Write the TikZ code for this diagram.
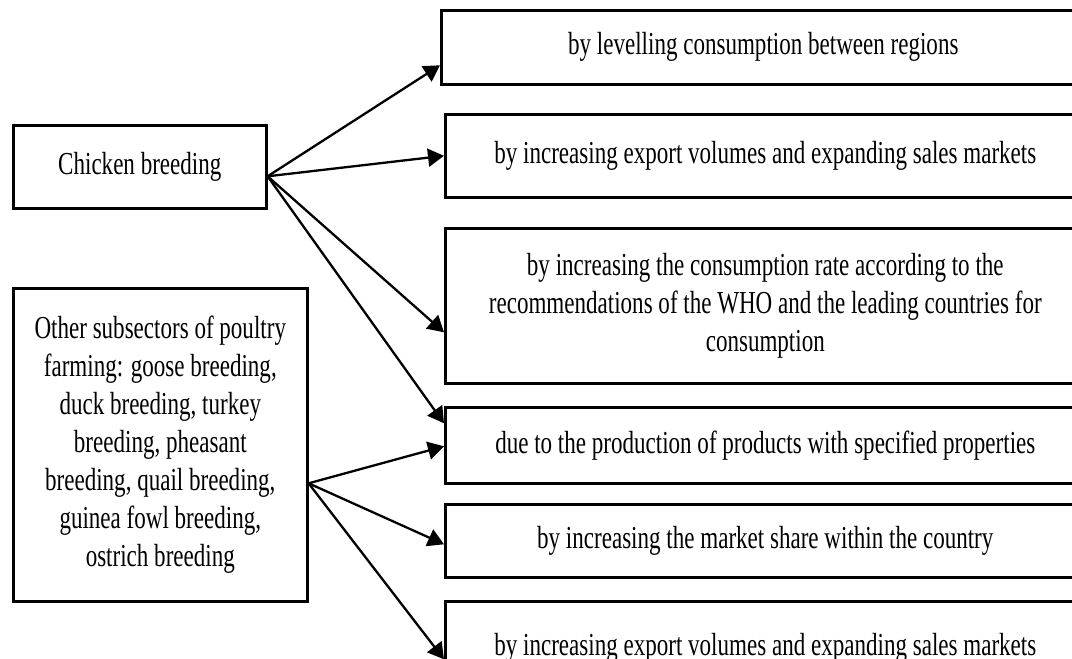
\documentclass[tikz,border=0pt]{standalone}
\usepackage{fontspec}
\setmainfont[FakeStretch=0.72]{Liberation Serif}
\usetikzlibrary{arrows.meta,calc}
\begin{document}
\begin{tikzpicture}[x=1pt,y=-1pt,
  box/.style={draw, line width=2.6pt, rectangle, inner sep=0pt, anchor=north west,
              font=\fontsize{32}{38}\selectfont, align=center},
  arr/.style={line width=2.3pt, -{Triangle[length=16pt,width=18pt]}}]
\useasboundingbox (0,0) rectangle (1072,659);
\clip (0,0) rectangle (1072,659);
\node[box, minimum width=253pt, minimum height=83pt] (chicken) at (12,124) {Chicken breeding};
\node[box, minimum width=294pt, minimum height=313pt] (other) at (12,287)
  {\raisebox{4pt}{\parbox{290pt}{\centering Other subsectors of poultry\\farming: goose breeding,\\duck breeding, turkey\\breeding, pheasant\\breeding, quail breeding,\\guinea fowl breeding,\\ostrich breeding}}};
\node[box, minimum width=644pt, minimum height=74pt] (b1) at (440,9) {by levelling consumption between regions};
\node[box, minimum width=640pt, minimum height=83pt] (b2) at (444,113) {by increasing export volumes and expanding sales markets};
\node[box, minimum width=640pt, minimum height=155pt] (b3) at (444,227)
  {by increasing the consumption rate according to the\\recommendations of the WHO and the leading countries for\\consumption};
\node[box, minimum width=640pt, minimum height=76pt] (b4) at (444,406) {due to the production of products with specified properties};
\node[box, minimum width=640pt, minimum height=73pt] (b5) at (444,503) {by increasing the market share within the country};
\node[box, minimum width=640pt, minimum height=94pt] (b6) at (444,600) {by increasing export volumes and expanding sales markets};
\coordinate (cf) at ([yshift=-9.5pt]chicken.east);
\coordinate (of) at ([yshift=-38.5pt]other.east);
\draw[arr] (cf) -- ([yshift=-18pt]b1.west);
\draw[arr] (cf) -- (b2.west);
\draw[arr] (cf) -- ([yshift=-26.5pt]b3.west);
\draw[arr] (cf) -- ([yshift=22pt]b4.west);
\draw[arr] (of) -- ([yshift=-1pt]b4.west);
\draw[arr] (of) -- ([yshift=-3.5pt]b5.west);
\draw[arr] (of) -- ([yshift=-11pt]b6.west);
\end{tikzpicture}
\end{document}
